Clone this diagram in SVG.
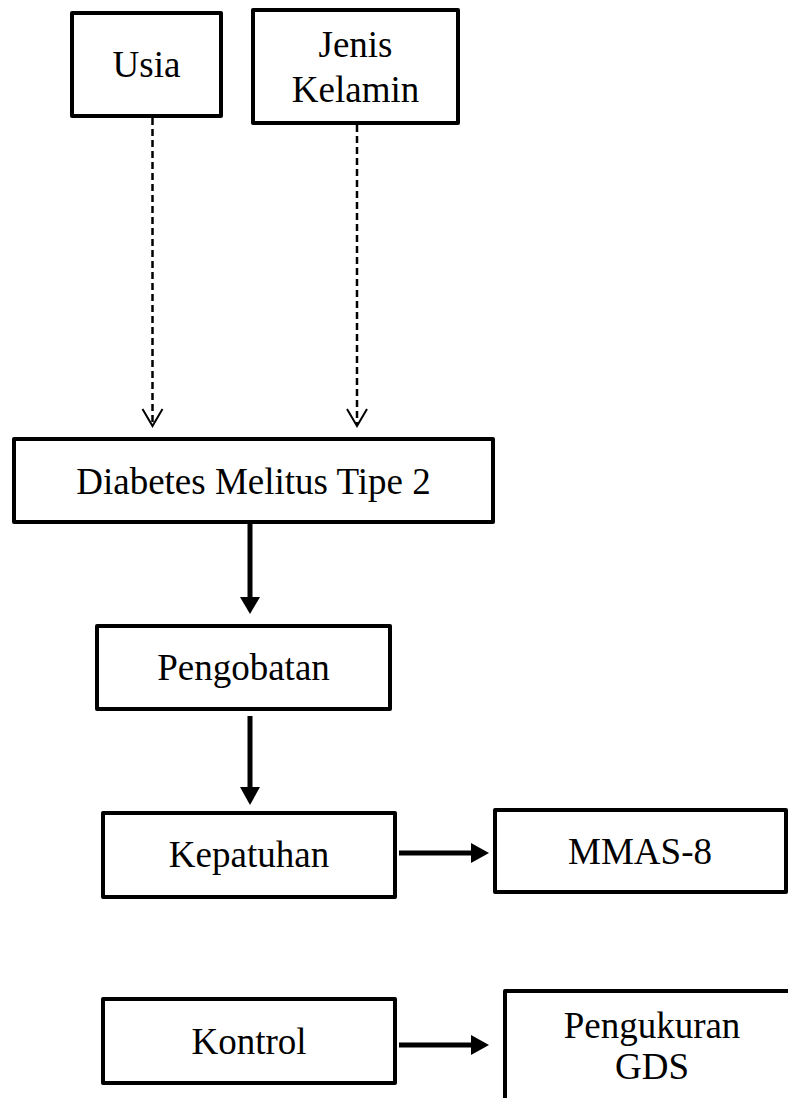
<svg xmlns="http://www.w3.org/2000/svg" width="788" height="1098" viewBox="0 0 788 1098">
<style>
.box{fill:#fff;stroke:#000;stroke-width:4;stroke-linejoin:round}
.t{font-family:"Liberation Serif","Times New Roman",serif;font-size:37px;fill:#000;text-anchor:middle}
.dash{stroke:#000;stroke-width:2.5;stroke-dasharray:7 4;fill:none}
.open{stroke:#000;stroke-width:2;fill:none;stroke-linejoin:miter}
.solid{stroke:#000;stroke-width:5;fill:none}
.head{fill:#000}
</style>
<rect width="788" height="1098" fill="#fff"/>
<g id="connectors">
<line class="dash" x1="152.5" y1="118" x2="152.5" y2="425"/>
<polyline class="open" points="142.5,409 152.5,426 162.5,409"/>
<line class="dash" x1="357" y1="125" x2="357" y2="425"/>
<polyline class="open" points="347,409 357,426 367,409"/>
<line class="solid" x1="250" y1="523" x2="250" y2="598"/>
<polygon class="head" points="240,597 260,597 250,614"/>
<line class="solid" x1="250" y1="716" x2="250" y2="788"/>
<polygon class="head" points="240,787 260,787 250,805"/>
<line class="solid" x1="399" y1="853" x2="472" y2="853"/>
<polygon class="head" points="471,843 471,863 489,853"/>
<line class="solid" x1="399" y1="1045" x2="472" y2="1045"/>
<polygon class="head" points="471,1035 471,1055 489,1045"/>
</g>
<g id="usia">
<rect class="box" x="72" y="13" width="149" height="103"/>
<text class="t" x="146.5" y="77">Usia</text>
</g>
<g id="jenis-kelamin">
<rect class="box" x="253" y="10" width="205" height="113"/>
<text class="t" x="355.5" y="57">Jenis</text>
<text class="t" x="355.5" y="102">Kelamin</text>
</g>
<g id="diabetes">
<rect class="box" x="14" y="439" width="479" height="83"/>
<text class="t" x="253.5" y="494">Diabetes Melitus Tipe 2</text>
</g>
<g id="pengobatan">
<rect class="box" x="97" y="626" width="293" height="83"/>
<text class="t" x="243.5" y="680">Pengobatan</text>
</g>
<g id="kepatuhan">
<rect class="box" x="103" y="813" width="292" height="84"/>
<text class="t" x="249" y="867">Kepatuhan</text>
</g>
<g id="mmas8">
<rect class="box" x="495" y="810" width="291" height="82"/>
<text class="t" x="640" y="864">MMAS-8</text>
</g>
<g id="kontrol">
<rect class="box" x="103" y="999" width="292" height="84"/>
<text class="t" x="249" y="1054">Kontrol</text>
</g>
<g id="pengukuran-gds">
<rect class="box" x="505" y="991" width="300" height="130"/>
<text class="t" x="652" y="1038">Pengukuran</text>
<text class="t" x="652" y="1079">GDS</text>
</g>
</svg>
